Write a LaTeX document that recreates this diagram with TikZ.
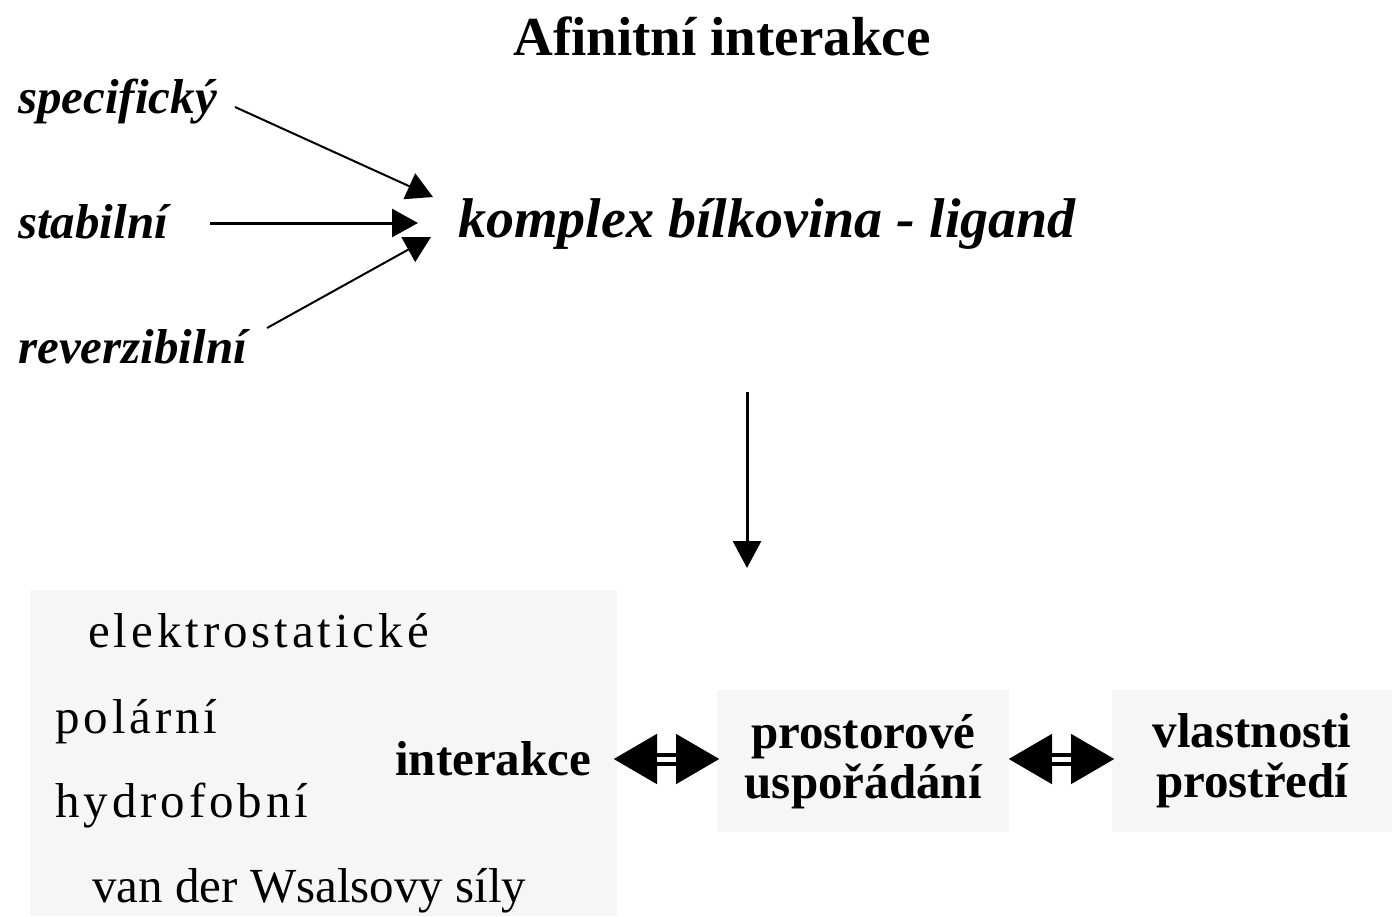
\documentclass[tikz,border=0pt]{standalone}
\usepackage{fontspec}
\setmainfont{Liberation Serif}
\newfontfamily\spacedfont[LetterSpace=8]{Liberation Serif}
\usetikzlibrary{arrows.meta}
\definecolor{boxgray}{HTML}{F6F6F6}
\tikzset{
  lbl/.style={inner sep=0, anchor=base west, font=\fontsize{49}{55}\selectfont\bfseries\itshape},
  reg/.style={inner sep=0, anchor=base west, font=\fontsize{49}{55}\selectfont\spacedfont},
  regn/.style={inner sep=0, anchor=base west, font=\fontsize{49}{55}\selectfont},
  bbox/.style={fill=boxgray, draw=none, inner sep=0, align=center,
    font=\fontsize{49}{50}\selectfont\bfseries},
  thin/.style={line width=2, -{Triangle[length=26,width=28]}},
  thick/.style={line width=3, -{Triangle[length=26,width=28]}},
  dblarr/.style={line width=13, {Triangle[length=44,width=47]}-{Triangle[length=44,width=47]}},
  dblgap/.style={white, line width=5, shorten <=44, shorten >=44}
}
\begin{document}
\begin{tikzpicture}[x=1pt,y=-1pt]
\useasboundingbox (0,0) rectangle (1392,916);
% title
\node[inner sep=0, anchor=base, font=\fontsize{55}{60}\selectfont\bfseries] (title) at (722,55) {Afinitní interakce};
% left labels
\node[lbl] (spec) at (18,113) {specifický};
\node[lbl] (stab) at (18,238) {stabilní};
\node[lbl] (rev) at (18,363) {reverzibilní};
\node[lbl, font=\fontsize{56}{60}\selectfont\bfseries\itshape] (kompl) at (458,237) {komplex bílkovina - ligand};
% arrow ends
\coordinate (sA) at (235,107);
\coordinate (sB) at (210,223);
\coordinate (sC) at (267,328);
\coordinate (tA) at (433,197);
\coordinate (tB) at (418,223);
\coordinate (tC) at (431,237);
\draw[thin] (sA) -- (tA);
\draw[thick] (sB) -- (tB);
\draw[thin] (sC) -- (tC);
% vertical arrow
\coordinate (vtop) at (747,392);
\coordinate (vbot) at (747,568);
\draw[thick, -{Triangle[length=27,width=28]}] (vtop) -- (vbot);
% boxes
\node[bbox, minimum width=587, minimum height=326, anchor=north west] (leftbox) at (30,590) {};
\node[bbox, minimum width=292, minimum height=142, anchor=north west] (midbox) at (717,690) {prostorové\\uspořádání};
\node[bbox, minimum width=280, minimum height=142, anchor=north west] (rightbox) at (1112,690) {vlastnosti\\prostředí};
% left box texts
\node[reg] (el) at (88,647) {elektrostatické};
\node[reg] (pol) at (55,733) {polární};
\node[reg] (hyd) at (55,817) {hydrofobní};
\node[regn] (vdw) at (92,902) {van der Wsalsovy síly};
\node[inner sep=0, anchor=base west, font=\fontsize{49}{55}\selectfont\bfseries] (inter) at (395,775) {interakce};
% double arrows
\coordinate (d1a) at (613,759);
\coordinate (d1b) at (720,759);
\coordinate (d2a) at (1008,759);
\coordinate (d2b) at (1115,759);
\draw[dblarr] (d1a) -- (d1b);
\draw[dblgap] (d1a) -- (d1b);
\draw[dblarr] (d2a) -- (d2b);
\draw[dblgap] (d2a) -- (d2b);
\end{tikzpicture}
\end{document}
